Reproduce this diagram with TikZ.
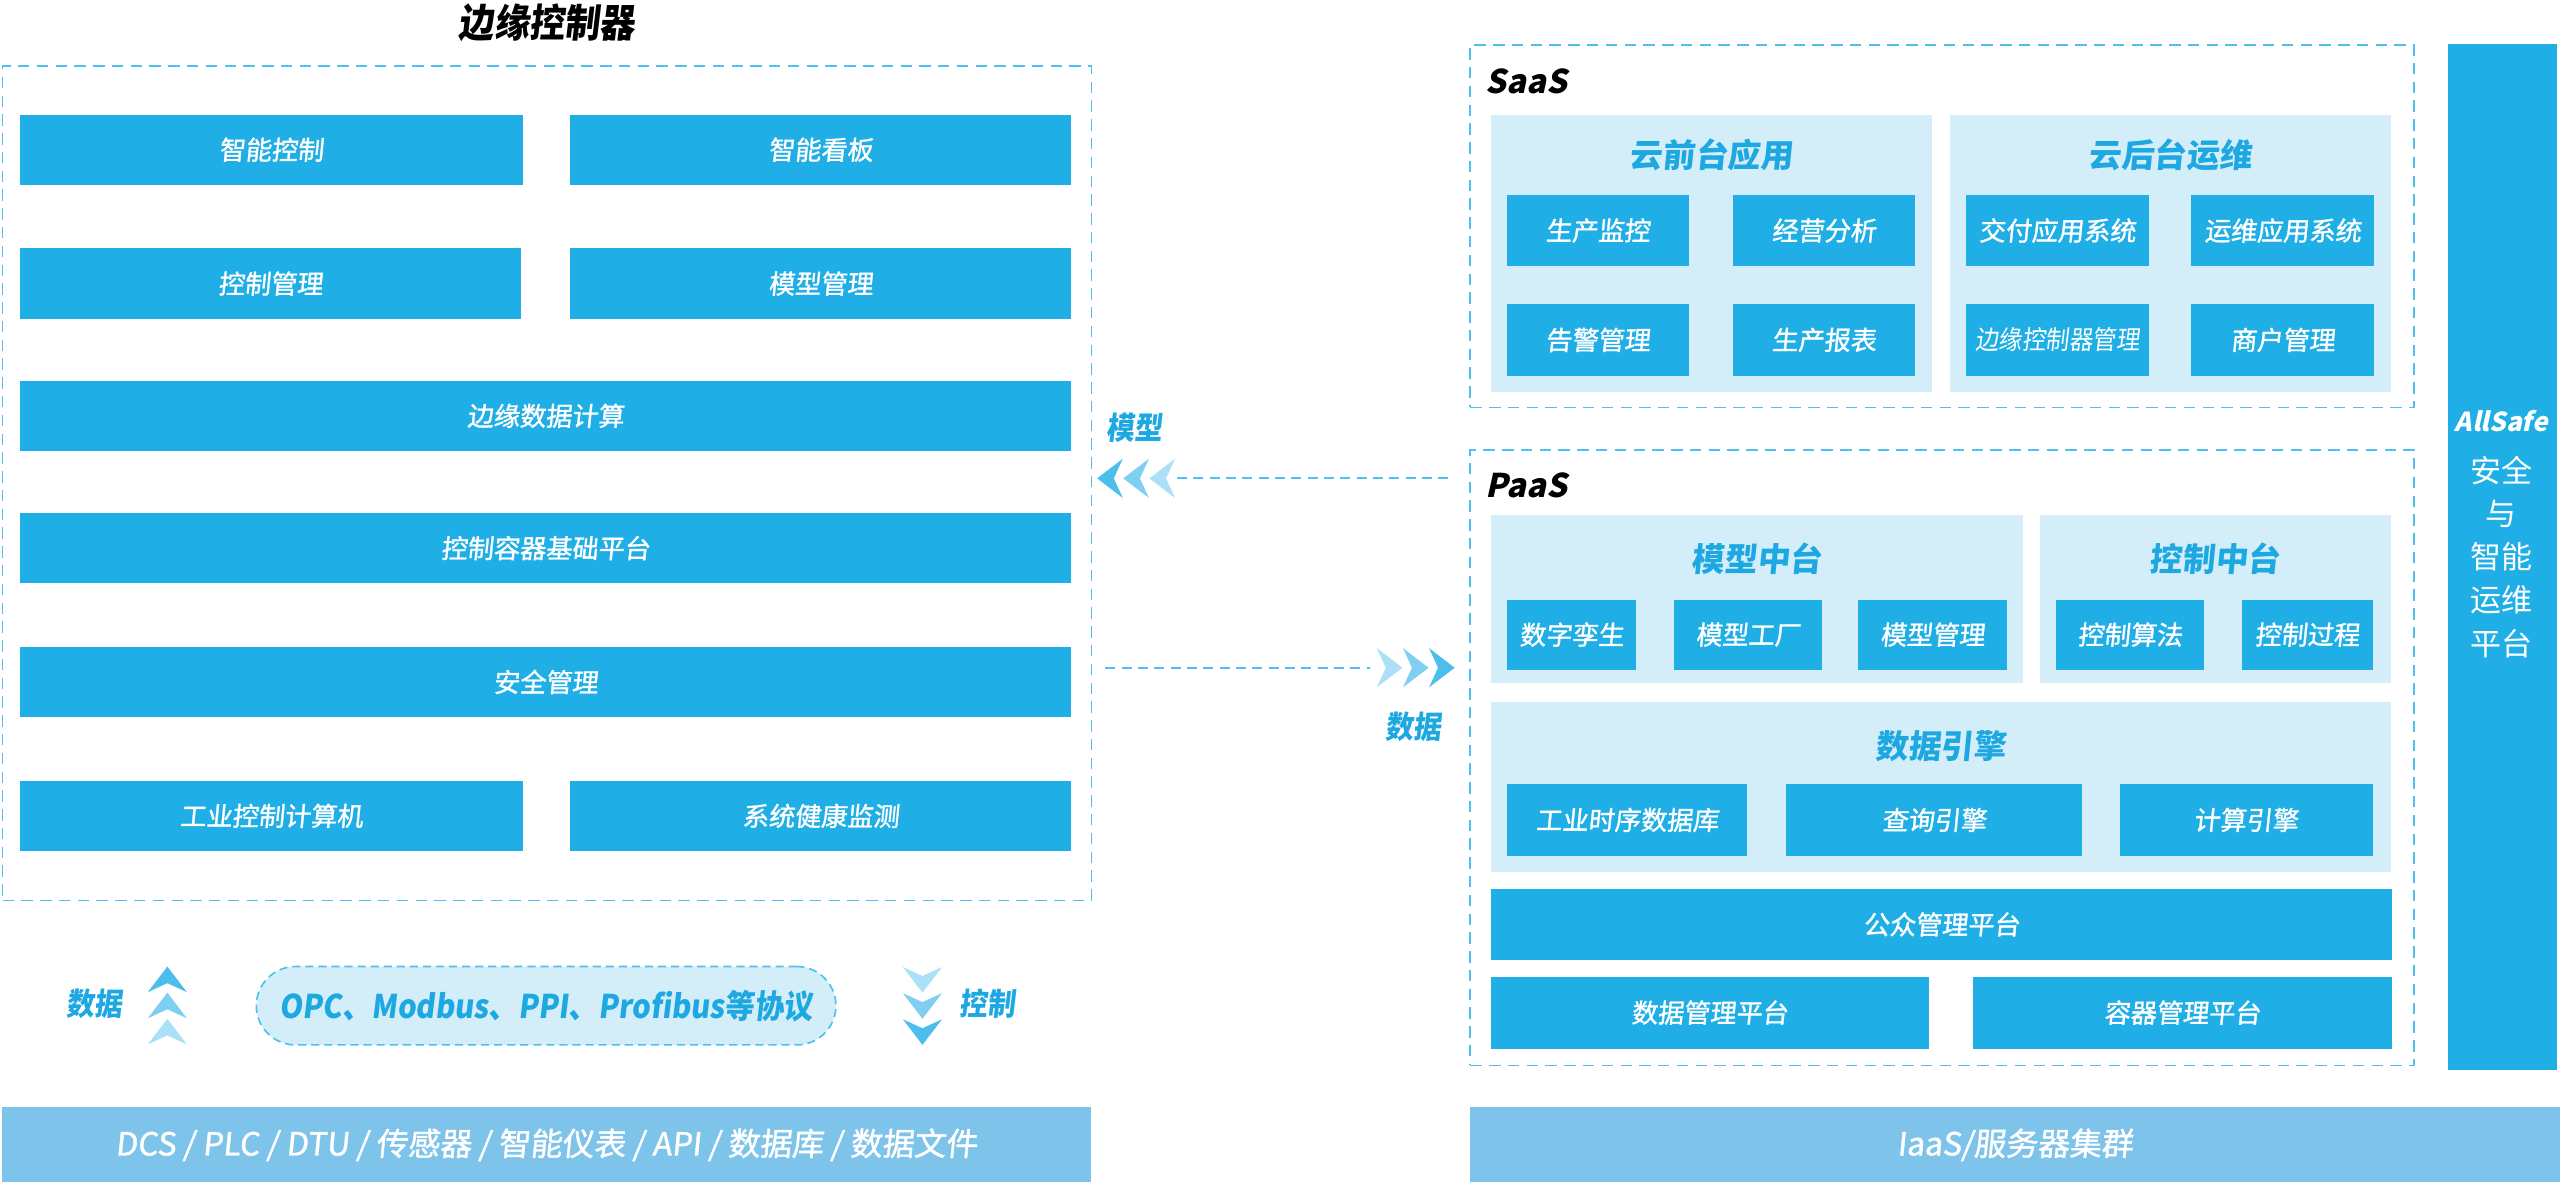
\documentclass[tikz,border=0pt]{standalone}
\usepackage{fontspec}
\usepackage{xcolor}
\setmainfont{Noto Sans CJK SC}
\newfontfamily\slfont[FakeSlant=0.1]{Noto Sans CJK SC}
\newfontfamily\bxfont[FakeSlant=0.1,FakeBold=1.3]{Noto Sans CJK SC}
\newfontfamily\cdfont[FakeSlant=0.12,FakeStretch=0.9]{Noto Sans CJK SC}
\newfontfamily\itfont[FakeSlant=0.22]{Noto Sans CJK SC}
\definecolor{boxblue}{HTML}{1FAEE5}
\definecolor{panelblue}{HTML}{D4EEF9}
\definecolor{barblue}{HTML}{7DC3EA}
\definecolor{dashblue}{HTML}{4FBFEF}
\definecolor{titleblue}{HTML}{1EA8E2}
\definecolor{chevA}{HTML}{4CBEEB}
\definecolor{chevB}{HTML}{7ECFF1}
\definecolor{chevC}{HTML}{ABE0F6}
\newcommand{\fsz}[1]{\fontsize{#1}{#1}\selectfont}

\begin{document}
\begin{tikzpicture}[x=1pt,y=-1pt,
      box/.style={fill=boxblue, text=white, font=\bxfont\fsz{16}, inner sep=0pt, anchor=north west},
      panel/.style={fill=panelblue, inner sep=0pt, anchor=north west},
      frame/.style={draw=dashblue, line width=1.1pt, dash pattern=on 7pt off 4.5pt, inner sep=0pt, anchor=north west},
      ptitle/.style={text=titleblue, font=\slfont\bfseries\fsz{20}},
      layer/.style={fill=barblue, text=white, font=\bxfont\fsz{19.5}, inner sep=0pt, anchor=north west},
      tag/.style={text=titleblue, font=\cdfont\bfseries\fsz{19}},
      flow/.style={draw=dashblue, line width=1.2pt, dash pattern=on 6pt off 4pt}]
      \useasboundingbox (0,0) rectangle (1568,725);
      % edge controller
      \node[font=\cdfont\bfseries\fsz{24}] (edgettl) at (335,14) {边缘控制器};
      \node[frame, minimum width=667pt, minimum height=511pt] (edgebox) at (1,40) {};
      \node[box, minimum width=308pt, minimum height=43pt] (smartctl) at (12,70) {智能控制};
      \node[box, minimum width=307pt, minimum height=43pt] (smartbrd) at (349,70) {智能看板};
      \node[box, minimum width=307pt, minimum height=43pt] (ctlmgr) at (12,152) {控制管理};
      \node[box, minimum width=307pt, minimum height=43pt] (mdlmgr) at (349,152) {模型管理};
      \node[box, minimum width=644pt, minimum height=43pt] (edgecalc) at (12,233) {边缘数据计算};
      \node[box, minimum width=644pt, minimum height=43pt] (ctlbase) at (12,314) {控制容器基础平台};
      \node[box, minimum width=644pt, minimum height=43pt] (secmgr) at (12,396) {安全管理};
      \node[box, minimum width=308pt, minimum height=43pt] (ipc) at (12,478) {工业控制计算机};
      \node[box, minimum width=307pt, minimum height=43pt] (health) at (349,478) {系统健康监测};
      % protocols
      \node[tag] (updata) at (58,615) {数据};
      \foreach \i/\c in {0/chevA,1/chevB,2/chevC}
        \fill[\c, shift={(102.5,592+16*\i)}] (0,0) -- (12,15.7) -- (0,10.2) -- (-12,15.7) -- cycle;
      \node[fill=panelblue, draw=dashblue, line width=1pt, dash pattern=on 5pt off 3pt,
        rounded corners=24pt, minimum width=355pt, minimum height=48pt,
        text=titleblue, font=\cdfont\bfseries\fsz{20}] (proto) at (334.5,616) {OPC、Modbus、PPI、Profibus等协议};
      \foreach \i/\c in {0/chevA,1/chevB,2/chevC}
        \fill[\c, shift={(565,640-16*\i)}] (0,0) -- (12,-15.7) -- (0,-10.2) -- (-12,-15.7) -- cycle;
      \node[tag] (dnctl) at (605,615) {控制};
      \node[layer, minimum width=667pt, minimum height=46pt] (devices) at (1,678) {DCS / PLC / DTU / 传感器 / 智能仪表 / API / 数据库 / 数据文件};
      % SaaS
      \node[frame, minimum width=578pt, minimum height=222pt] (saasbox) at (900,27) {};
      \node[font=\itfont\bfseries\fsz{20}] (saas) at (935,50) {SaaS};
      \node[panel, minimum width=270pt, minimum height=170pt] (front) at (913,70) {};
      \node[ptitle] at ([yshift=-25pt]front.north) {云前台应用};
      \node[panel, minimum width=270pt, minimum height=170pt] (back) at (1194,70) {};
      \node[ptitle] at ([yshift=-25pt]back.north) {云后台运维};
      \node[box, minimum width=111pt, minimum height=44pt] (prodmon) at (923,119) {生产监控};
      \node[box, minimum width=112pt, minimum height=44pt] (bizana) at (1061,119) {经营分析};
      \node[box, minimum width=112pt, minimum height=44pt] (delivery) at (1204,119) {交付应用系统};
      \node[box, minimum width=112pt, minimum height=44pt] (opsapp) at (1342,119) {运维应用系统};
      \node[box, minimum width=111pt, minimum height=44pt] (alarm) at (923,186) {告警管理};
      \node[box, minimum width=112pt, minimum height=44pt] (report) at (1061,186) {生产报表};
      \node[box, minimum width=112pt, minimum height=44pt, font=\cdfont\fsz{16}] (edgemgr) at (1204,186) {边缘控制器管理};
      \node[box, minimum width=112pt, minimum height=44pt] (tenant) at (1342,186) {商户管理};
      % PaaS
      \node[frame, minimum width=578pt, minimum height=377pt] (paasbox) at (900,275) {};
      \node[font=\itfont\bfseries\fsz{20}] (paas) at (935,297) {PaaS};
      \node[panel, minimum width=326pt, minimum height=103pt] (mdlhub) at (913,315) {};
      \node[ptitle] at ([yshift=-27pt]mdlhub.north) {模型中台};
      \node[panel, minimum width=215pt, minimum height=103pt] (ctlhub) at (1249,315) {};
      \node[ptitle] at ([yshift=-27pt]ctlhub.north) {控制中台};
      \node[box, minimum width=79pt, minimum height=43pt] (twin) at (923,367) {数字孪生};
      \node[box, minimum width=91pt, minimum height=43pt] (factory) at (1025,367) {模型工厂};
      \node[box, minimum width=91pt, minimum height=43pt] (mdlmgr2) at (1138,367) {模型管理};
      \node[box, minimum width=91pt, minimum height=43pt] (algo) at (1259,367) {控制算法};
      \node[box, minimum width=80pt, minimum height=43pt] (process) at (1373,367) {控制过程};
      \node[panel, minimum width=551pt, minimum height=104pt] (engine) at (913,430) {};
      \node[ptitle] at ([yshift=-27pt]engine.north) {数据引擎};
      \node[box, minimum width=147pt, minimum height=44pt] (tsdb) at (923,480) {工业时序数据库};
      \node[box, minimum width=181pt, minimum height=44pt] (query) at (1094,480) {查询引擎};
      \node[box, minimum width=155pt, minimum height=44pt] (compute) at (1298,480) {计算引擎};
      \node[box, minimum width=552pt, minimum height=44pt] (public) at (913,544) {公众管理平台};
      \node[box, minimum width=268pt, minimum height=44pt] (datamgr) at (913,598) {数据管理平台};
      \node[box, minimum width=257pt, minimum height=44pt] (contmgr) at (1208,598) {容器管理平台};
      \node[layer, minimum width=668pt, minimum height=46pt] (iaas) at (900,678) {IaaS/服务器集群};
      % AllSafe bar
      \node[fill=boxblue, inner sep=0pt, anchor=north west, minimum width=67pt, minimum height=628pt] (safebar) at (1499,27) {};
      \node[text=white, font=\itfont\bfseries\fsz{16}] (allsafe) at (1532,258) {AllSafe};
      \node[text=white, font={\fontsize{19}{26.5}\selectfont}, align=center, inner sep=0pt] (safetxt) at (1532,341)
        {安全\\与\\智能\\运维\\平台};
      % model / data flows
      \node[tag] (mdltag) at (695,262) {模型};
      \foreach \i/\c in {0/chevA,1/chevB,2/chevC}
        \fill[\c, shift={(672+16*\i,293)}] (0,0) -- (15.7,-12) -- (10.2,0) -- (15.7,12) -- cycle;
      \coordinate (mdltip) at (721,293);
      \draw[flow, shorten >=12pt] (mdltip) -- (mdltip -| paasbox.west);
      \foreach \i/\c in {0/chevA,1/chevB,2/chevC}
        \fill[\c, shift={(891-16*\i,409)}] (0,0) -- (-15.7,-12) -- (-10.2,0) -- (-15.7,12) -- cycle;
      \coordinate (datatip) at (839,409);
      \draw[flow, shorten <=8pt] (edgebox.east |- datatip) -- (datatip);
      \node[tag] (datatag) at (866,445) {数据};
    \end{tikzpicture}
\end{document}
